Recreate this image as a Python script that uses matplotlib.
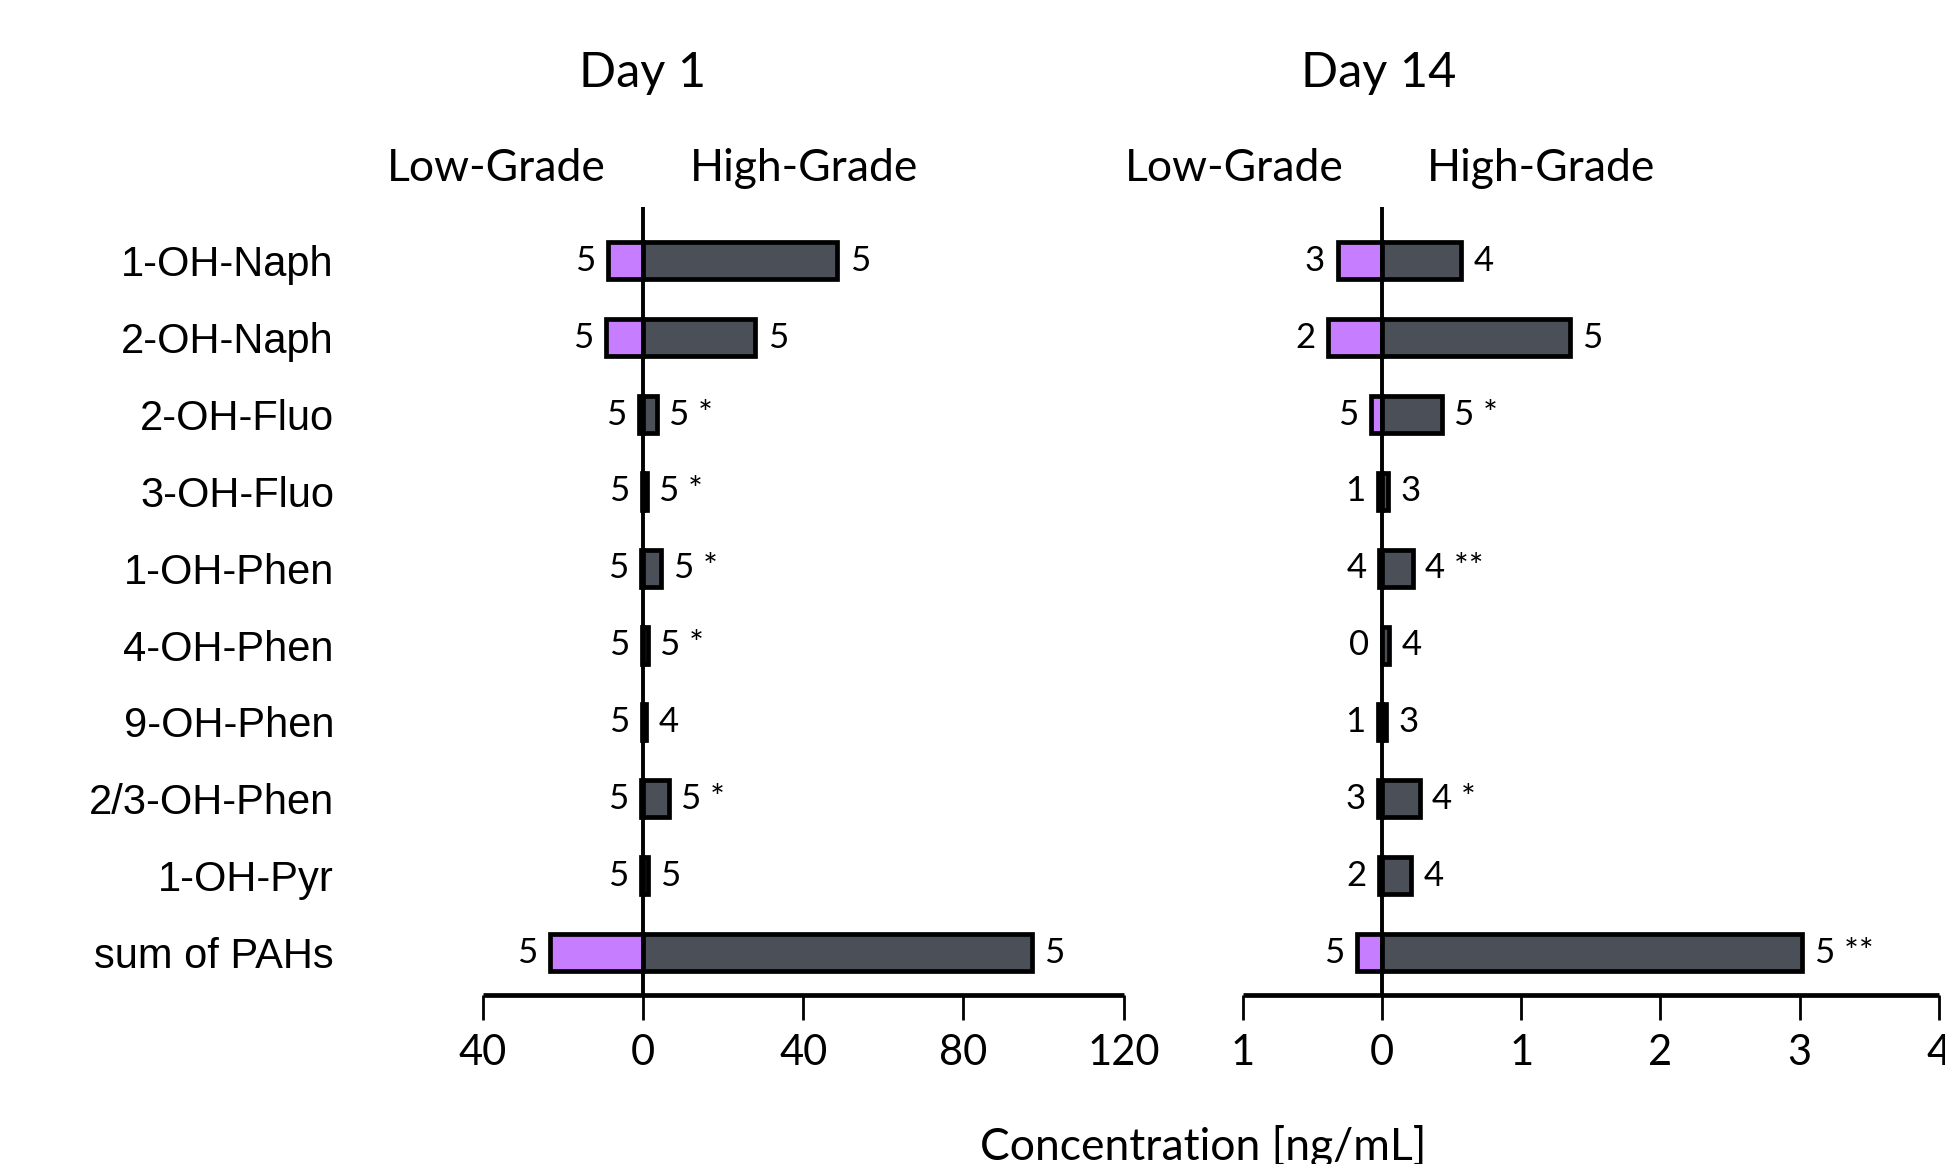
import matplotlib
matplotlib.use("Agg")
import matplotlib.pyplot as plt

# Kategorien (von oben nach unten)
categories = ["1-OH-Naph", "2-OH-Naph", "2-OH-Fluo", "3-OH-Fluo", "1-OH-Phen",
              "4-OH-Phen", "9-OH-Phen", "2/3-OH-Phen", "1-OH-Pyr", "sum of PAHs"]

# Day 1 (ng/mL)
day1_low = [8.7, 9.3, 1.0, 0.3, 0.4, 0.3, 0.2, 0.5, 0.5, 23.2]
day1_high = [48.5, 28.0, 3.5, 1.0, 4.6, 1.2, 0.8, 6.5, 1.2, 97.0]
day1_low_n = ["5", "5", "5", "5", "5", "5", "5", "5", "5", "5"]
day1_high_n = ["5", "5", "5 *", "5 *", "5 *", "5 *", "4", "5 *", "5", "5"]

# Day 14 (ng/mL)
day14_low = [0.32, 0.39, 0.08, 0.03, 0.02, 0.0, 0.03, 0.03, 0.02, 0.18]
day14_high = [0.57, 1.35, 0.43, 0.04, 0.22, 0.05, 0.03, 0.27, 0.21, 3.02]
day14_low_n = ["3", "2", "5", "1", "4", "0", "1", "3", "2", "5"]
day14_high_n = ["4", "5", "5 *", "3", "4 **", "4", "3", "4 *", "4", "5 **"]

day1_ticks = [-40, 0, 40, 80, 120]
day1_ticklabels = ["40", "0", "40", "80", "120"]
day14_ticks = [-1, 0, 1, 2, 3, 4]
day14_ticklabels = ["1", "0", "1", "2", "3", "4"]

purple = "#C77DFF"
grey = "#4A4F58"
txt_font = "Lato"

W, H = 1945, 1164
fig = plt.figure(figsize=(W / 100, H / 100), dpi=100)

bottom = 1 - 994.8 / H
height = (994.8 - 207) / H
ax1 = fig.add_axes([482.5 / W, bottom, (1123.8 - 482.5) / W, height])
ax2 = fig.add_axes([1242.9 / W, bottom, (1938.7 - 1242.9) / W, height])


def draw_panel(ax, low, high, low_n, high_n, xlim, ticks, ticklabels):
    y = list(range(len(categories)))
    neg = [-v for v in low]
    ax.barh(y, neg, height=0.48, color=purple, edgecolor="black", linewidth=3.4, zorder=2)
    ax.barh(y, high, height=0.48, color=grey, edgecolor="black", linewidth=3.4, zorder=2)
    ax.axvline(0, color="black", linewidth=2.8, zorder=3)
    for i in y:
        ax.annotate(low_n[i], (neg[i], i), xytext=(-9, 0), textcoords="offset points",
                    ha="right", va="center", fontsize=25, family=txt_font)
        ax.annotate(high_n[i], (high[i], i), xytext=(9, 0), textcoords="offset points",
                    ha="left", va="center", fontsize=25, family=txt_font)
    ax.set_xlim(*xlim)
    ax.set_ylim(9.55, -0.70)
    ax.set_xticks(ticks)
    ax.set_xticklabels(ticklabels, fontsize=30, family=txt_font)
    ax.tick_params(axis="x", length=18, width=2, pad=10)
    for s in ["top", "right", "left"]:
        ax.spines[s].set_visible(False)
    ax.spines["bottom"].set_linewidth(3.4)
    ax.spines["bottom"].set_capstyle("butt")
    ax.patch.set_alpha(0)


draw_panel(ax1, day1_low, day1_high, day1_low_n, day1_high_n, (-40, 120),
           day1_ticks, day1_ticklabels)
draw_panel(ax2, day14_low, day14_high, day14_low_n, day14_high_n, (-1, 4),
           day14_ticks, day14_ticklabels)

# Kategorien links
ax1.set_yticks(range(len(categories)))
ax1.set_yticklabels(categories, fontsize=30, family="Liberation Sans")
ax1.tick_params(axis="y", length=0, pad=(482.5 - 334) * 0.72)
ax2.set_yticks([])

# Titel und Gruppen
fig.text(642.5 / W, 1 - 87 / H, "Day 1", ha="center", va="baseline", fontsize=35, family=txt_font)
fig.text(1379 / W, 1 - 87 / H, "Day 14", ha="center", va="baseline", fontsize=35, family=txt_font)
for x, lab in [(496, "Low-Grade"), (804, "High-Grade"), (1234, "Low-Grade"), (1541, "High-Grade")]:
    fig.text(x / W, 1 - 181 / H, lab, ha="center", va="baseline", fontsize=32, family=txt_font)

fig.text(1203 / W, 1 - 1160 / H, "Concentration [ng/mL]", ha="center", va="baseline",
         fontsize=32, family=txt_font)

fig.savefig("out.png", dpi=100)
